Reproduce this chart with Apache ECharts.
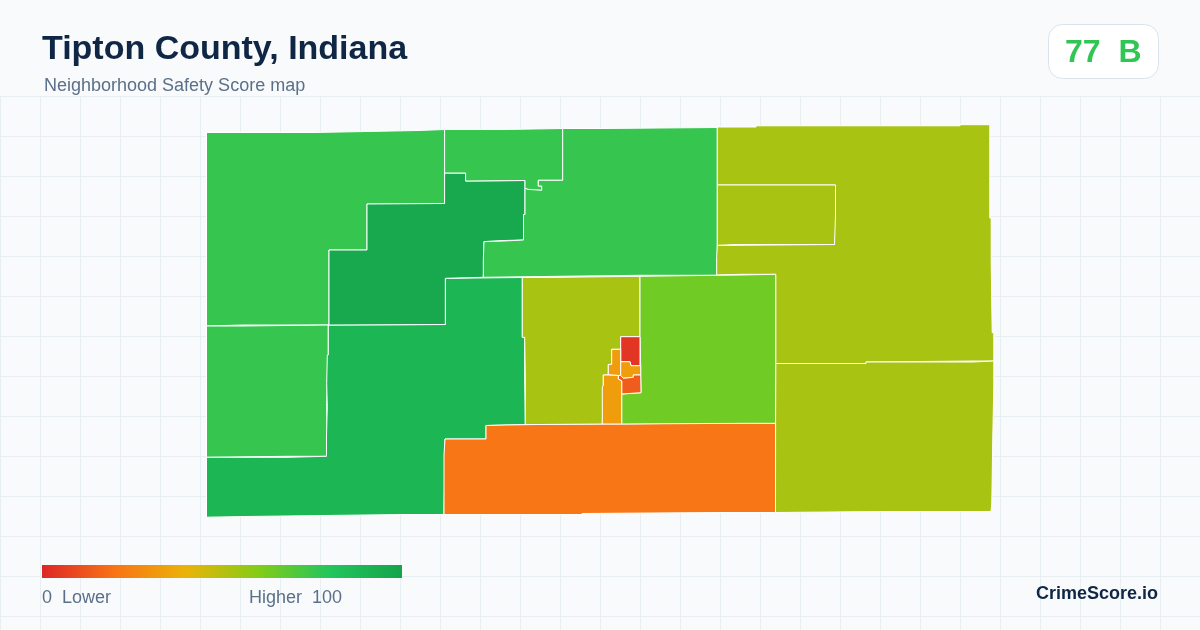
<!DOCTYPE html>
<html>
<head>
<meta charset="utf-8">
<title>Tipton County, Indiana</title>
<script src="https://cdn.jsdelivr.net/npm/echarts@6/dist/echarts.min.js"></script>
<style>
  html, body { margin: 0; padding: 0; background: #f8fafc; }
  #chart { width: 1200px; height: 630px; }
</style>
</head>
<body>
<div id="chart"></div>
<script>
// block groups, with the score each one is coloured by
const regionNames = ['northwest', 'west', 'southwest', 'centerDark', 'north', 'northMiddle',
  'northeast', 'eastInset', 'southeast', 'south', 'centerWest', 'centerEast',
  'townRed', 'townUpper', 'townMiddle', 'townLower', 'townTall']
const regionScores = [76, 76, 89, 97, 76, 76, 53, 53, 53, 21, 53, 64, 4, 33, 33, 14, 33]
const legendColors = ['#dc2626', '#f97316', '#eab308', '#84cc16', '#22c55e', '#16a34a']

const northwest = [[206.5, 132.5], [314, 132.5], [314, 131.5], [366, 131.5], [366, 130.5], [418, 130.5], [418, 129.5], [444.6, 129.5], [444.6, 203.5], [367, 204], [367, 250], [329, 250], [329, 325], [243, 325], [243, 326], [206.5, 326]]
const west = [[206.5, 326], [243, 326], [243, 325], [328.3, 325], [328.3, 355], [327.3, 355], [327.3, 383.3], [326.7, 383.3], [326.7, 406.7], [327.3, 406.7], [327.3, 436], [326.5, 436], [326.5, 456.3], [288, 456.3], [288, 457.3], [206.5, 457.3]]
const southwest = [[328.3, 325], [445.3, 324.5], [445.3, 278.3], [522.3, 277.5], [522.3, 337.3], [524.7, 337.3], [524.7, 377.3], [525.3, 377.3], [525.3, 424.5], [506, 425], [486, 425.5], [486, 439], [445, 439], [445, 455], [444, 455], [444, 514.5], [404, 514.5], [404, 515.5], [325, 515.5], [325, 516.5], [246, 516.5], [246, 517.2], [206.5, 517.2], [206.5, 457.3], [288, 457.3], [288, 456.3], [326.5, 456.3], [326.5, 436], [327.3, 436], [327.3, 406.7], [326.7, 406.7], [326.7, 383.3], [327.3, 383.3], [327.3, 355], [328.3, 355]]
const centerDark = [[367, 204], [444.6, 203.5], [444.6, 173], [465.6, 173], [465.6, 181], [525, 180.5], [525, 214.5], [523.5, 214.5], [523.5, 240], [504, 240.5], [504, 241], [484, 241.6], [484, 260], [483.3, 260], [483.3, 277.3], [445.3, 278.3], [445.3, 324.5], [329, 325], [329, 250], [367, 250]]
const north = [[444.6, 129.5], [503, 129.5], [503, 128.5], [562.7, 128.5], [562.7, 180.3], [538.3, 180.3], [538.3, 186], [541.7, 186], [541.7, 190.3], [533.3, 190.3], [533.3, 189.7], [527.7, 189.3], [525, 188.3], [525, 180.5], [465.6, 181], [465.6, 173], [444.6, 173]]
const northMiddle = [[562.7, 128.5], [601, 128.5], [601, 127.5], [717.3, 127.5], [717.3, 256.7], [716.7, 256.7], [716.7, 275.3], [640, 275.3], [640, 276.3], [560, 276.3], [560, 277.3], [483.3, 277.3], [483.3, 260], [484, 260], [484, 241.6], [504, 241], [504, 240.5], [523.5, 240], [523.5, 214.5], [525, 214.5], [525, 188.3], [527.7, 189.3], [533.3, 189.7], [533.3, 190.3], [541.7, 190.3], [541.7, 186], [538.3, 186], [538.3, 180.3], [562.7, 180.3]]
const northeast = [[717.3, 127], [756, 127], [756, 125.8], [960, 125.8], [960, 124.7], [989.8, 124.7], [989.8, 218], [991.2, 218], [991.2, 263], [992.2, 263], [992.2, 332.7], [993.8, 332.7], [993.8, 361], [973, 361], [973, 362], [866, 362], [866, 363.5], [775.7, 363.5], [775.7, 274.3], [741, 274.3], [741, 275], [716.7, 275], [716.7, 256.7], [717.3, 256.7], [717.3, 245.3], [737, 245.3], [737, 244.5], [834.5, 244.5], [834.5, 215], [835.5, 215], [835.5, 185], [717.3, 185]]
const eastInset = [[717.3, 185], [835.5, 185], [835.5, 215], [834.5, 215], [834.5, 244.5], [737, 244.5], [737, 245.3], [717.3, 245.3]]
const southeast = [[775.7, 363.5], [866, 363.5], [866, 362], [973, 362], [973, 361], [993.8, 361], [993.8, 385.7], [992.8, 385.7], [992.8, 436], [991.8, 436], [991.8, 503], [991, 503], [991, 511.5], [883, 511.5], [883, 512.5], [775.5, 512.5]]
const south = [[444, 514.5], [444, 455], [445, 455], [445, 439], [486, 439], [486, 425.5], [506, 425], [537, 424.5], [602.3, 424], [621.7, 424], [746, 422.5], [746, 423.3], [775.5, 423.3], [775.5, 512.5], [720, 512.5], [720, 513.5], [582, 513.5], [582, 514.5]]
const centerWest = [[522.3, 277.5], [560, 277.3], [560, 276.3], [640, 276.3], [640, 336.7], [620.7, 336.7], [620.7, 349.3], [611.7, 349.3], [611.7, 364.3], [608.3, 364.5], [608.3, 375], [603.3, 375], [603.3, 386], [602.3, 386.7], [602.3, 424], [537, 424.5], [525.3, 424.5], [525.3, 377.3], [524.7, 377.3], [524.7, 337.3], [522.3, 337.3]]
const centerEast = [[640, 276.3], [640, 275.3], [716.7, 275.3], [741, 275], [741, 274.3], [775.7, 274.3], [775.7, 363.5], [775.5, 423.3], [746, 423.3], [746, 422.5], [621.7, 424], [621.7, 394], [641, 392.7], [640.7, 375], [640.7, 365.7], [640, 365.7], [640, 336.7]]
const townRed = [[620.7, 336.7], [640, 336.7], [640, 365.7], [631, 365.7], [630, 361.7], [620.7, 361.7]]
const townUpper = [[611.7, 349.3], [620.7, 349.3], [620.7, 375.5], [608.3, 375], [608.3, 364.5], [611.7, 364.3]]
const townMiddle = [[620.7, 361.7], [630, 361.7], [631, 365.7], [640.7, 365.7], [640.7, 375], [633.3, 375], [633.3, 377.3], [623.3, 378.3], [620.7, 375.5]]
const townLower = [[618.3, 375.5], [620.7, 375.5], [623.3, 378.3], [633.3, 377.3], [633.3, 375], [640.7, 375], [641, 392.7], [621.7, 394], [621.7, 381], [618.3, 379]]
const townTall = [[603.3, 375], [608.3, 375], [618.3, 375.5], [618.3, 379], [621.7, 381], [621.7, 424], [602.3, 424], [602.3, 386.7], [603.3, 386]]

const outlines = [northwest, west, southwest, centerDark, north, northMiddle, northeast, eastInset,
  southeast, south, centerWest, centerEast, townRed, townUpper, townMiddle, townLower, townTall]

const features = regionNames.map(function (name, i) {
  return {
    type: 'Feature',
    properties: { name: name },
    geometry: { type: 'Polygon', coordinates: [outlines[i]] }
  }
})
echarts.registerMap('tipton', { type: 'FeatureCollection', features: features })

const inkColor = '#0f2744'
const mutedColor = '#5b7089'
const fontName = '"Liberation Sans", Arial, sans-serif'

var myChart = echarts.init(document.getElementById('chart'))
let option = {
  animation: false,
  backgroundColor: '#f8fafc',
  grid: { left: 0, right: 0, top: 96, bottom: 0 },
  xAxis: {
    type: 'value', min: 0, max: 1200, interval: 40,
    axisLine: { show: false }, axisTick: { show: false }, axisLabel: { show: false },
    splitLine: { lineStyle: { color: '#e7eff3', width: 1 } }
  },
  yAxis: {
    type: 'value', inverse: true, min: 0, max: 534, interval: 40,
    axisLine: { show: false }, axisTick: { show: false }, axisLabel: { show: false },
    splitLine: { lineStyle: { color: '#e7eff3', width: 1 } }
  },
  visualMap: {
    type: 'continuous',
    show: false,
    seriesIndex: 0,
    min: 0,
    max: 100,
    inRange: { color: legendColors }
  },
  series: [
    {
      type: 'map',
      map: 'tipton',
      projection: { project: function (p) { return p }, unproject: function (p) { return p } },
      boundingCoords: [[206, 124], [994, 518]],
      left: 206,
      top: 124,
      width: 788,
      height: 394,
      silent: true,
      roam: false,
      label: { show: false },
      itemStyle: { borderColor: '#ffffff', borderWidth: 1 },
      emphasis: { disabled: true },
      select: { disabled: true },
      data: regionNames.map(function (name, i) {
        return { name: name, value: regionScores[i] }
      })
    }
  ],
  graphic: [
    { type: 'text', z: 10, left: 42, top: 33, style: { text: 'Tipton County, Indiana', fill: inkColor, font: 'bold 34px ' + fontName } },
    { type: 'text', z: 10, left: 44, top: 77, style: { text: 'Neighborhood Safety Score map', fill: mutedColor, font: '18px ' + fontName } },
    { type: 'rect', z: 10, left: 1048, top: 24, shape: { width: 110, height: 54, r: 14 }, style: { fill: '#ffffff', stroke: '#dde3ec', lineWidth: 1 } },
    { type: 'text', z: 11, left: 1065, top: 37, style: { text: '77  B', fill: '#31c653', font: 'bold 32px ' + fontName } },
    {
      type: 'rect', z: 10, left: 42, top: 565, shape: { width: 360, height: 13 },
      style: {
        fill: new echarts.graphic.LinearGradient(0, 0, 1, 0, legendColors.map(function (color, i) {
          return { offset: i / (legendColors.length - 1), color: color }
        }))
      }
    },
    { type: 'text', z: 10, left: 42, top: 589, style: { text: '0  Lower', fill: mutedColor, font: '18px ' + fontName } },
    { type: 'text', z: 10, left: 249, top: 589, style: { text: 'Higher  100', fill: mutedColor, font: '18px ' + fontName } },
    { type: 'text', z: 10, right: 42, top: 585, style: { text: 'CrimeScore.io', fill: inkColor, font: 'bold 18px ' + fontName } }
  ]
}
myChart.setOption(option)
</script>
</body>
</html>
